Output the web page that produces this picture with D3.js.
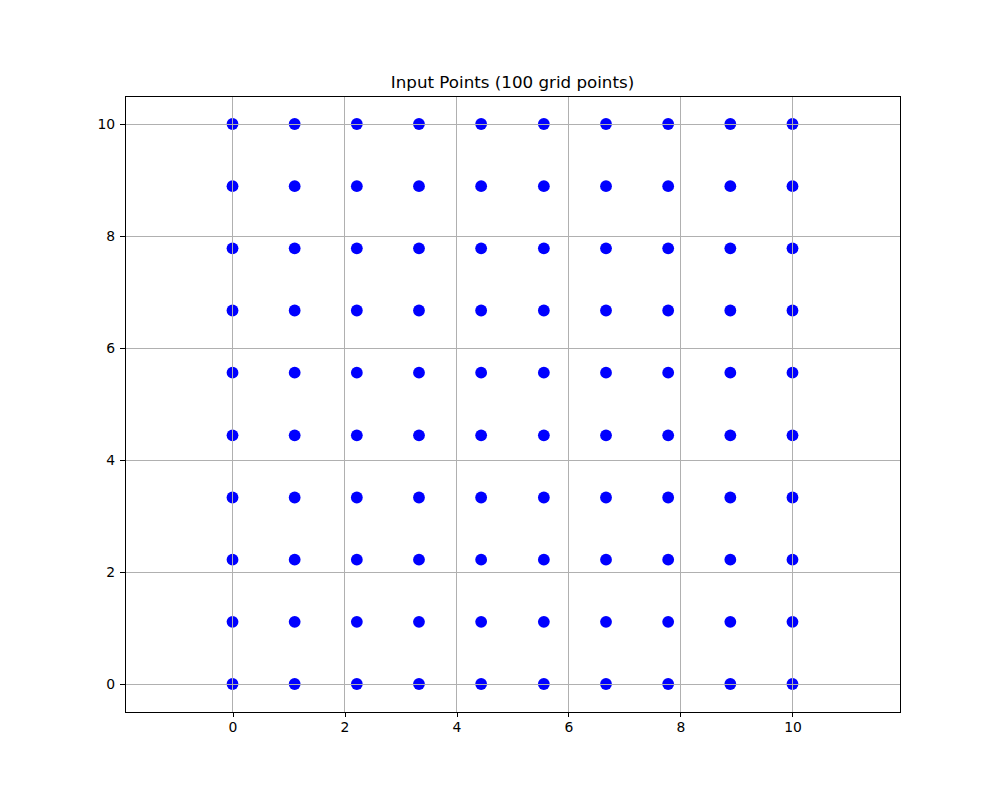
<!DOCTYPE html>
<html><head><meta charset="utf-8">
<script src="https://cdn.jsdelivr.net/npm/d3@7"></script>
<style>body{margin:0;background:#fff;} text{font-family:"DejaVu Sans",sans-serif;}</style>
</head><body>
<svg id="c" width="1000" height="800"></svg>
<script>
const gridX = [0, 1.11, 2.22, 3.33, 4.44, 5.56, 6.67, 7.78, 8.89, 10];
const gridY = [0, 1.11, 2.22, 3.33, 4.44, 5.56, 6.67, 7.78, 8.89, 10];
const xTicks = [0, 2, 4, 6, 8, 10];
const yTicks = [0, 2, 4, 6, 8, 10];
const title = "Input Points (100 grid points)";

const points = [];
gridY.forEach(y => gridX.forEach(x => points.push({x, y})));

const L = 125, R = 900, T = 96, B = 712;
const svg = d3.select("#c");
const x = d3.scaleLinear().domain([-1.92, 11.92]).range([L, R]);
const y = d3.scaleLinear().domain([-0.5, 10.5]).range([B, T]);

// points
svg.append("g").selectAll("circle").data(points).enter().append("circle")
  .attr("cx", d => x(d.x)).attr("cy", d => y(d.y)).attr("r", 5.9).attr("fill", "#0000ff");

// grid
const g = svg.append("g").attr("shape-rendering", "crispEdges");
g.selectAll(".gx").data(xTicks).enter().append("line")
  .attr("x1", d => x(d)).attr("x2", d => x(d)).attr("y1", T).attr("y2", B)
  .attr("stroke", "#b0b0b0").attr("stroke-width", 1);
g.selectAll(".gy").data(yTicks).enter().append("line")
  .attr("y1", d => y(d)).attr("y2", d => y(d)).attr("x1", L).attr("x2", R)
  .attr("stroke", "#b0b0b0").attr("stroke-width", 1);

// axes
const xa = svg.append("g").attr("transform", `translate(0,${B})`)
  .call(d3.axisBottom(x).tickValues(xTicks).tickSize(4.9).tickPadding(4.9).tickFormat(d3.format("d")));
const ya = svg.append("g").attr("transform", `translate(${L},0)`)
  .call(d3.axisLeft(y).tickValues(yTicks).tickSize(4.9).tickPadding(4.9).tickFormat(d3.format("d")));
[xa, ya].forEach(a => {
  a.select(".domain").remove();
  a.selectAll("text").attr("font-size", 13.9).attr("font-family", "DejaVu Sans").attr("fill", "#000");
  a.selectAll("line").attr("stroke", "#000").attr("stroke-width", 1).attr("shape-rendering", "crispEdges");
});

svg.append("rect").attr("x", L).attr("y", T).attr("width", R - L).attr("height", B - T)
  .attr("fill", "none").attr("stroke", "#000").attr("stroke-width", 1).attr("shape-rendering", "crispEdges");

svg.append("text").attr("x", (L + R) / 2).attr("y", T - 8).attr("text-anchor", "middle")
  .attr("font-size", 16.7).attr("fill", "#000").text(title);
</script>
</body></html>
